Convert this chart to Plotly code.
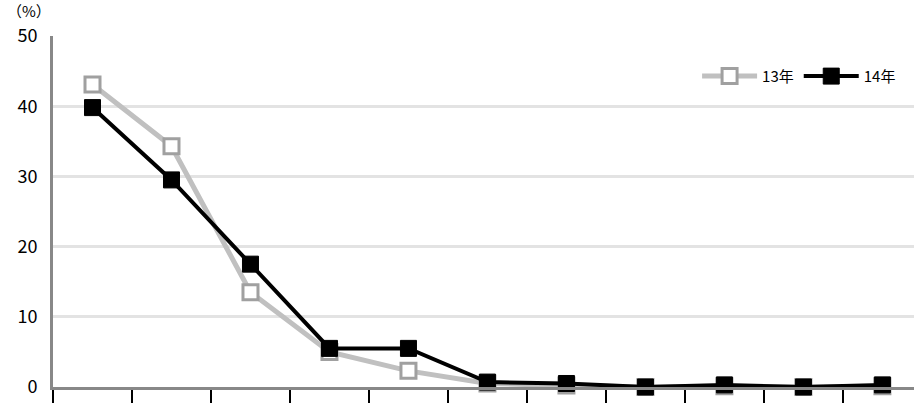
import plotly.graph_objects as go

categories = list(range(11))
series_13 = [43.1, 34.3, 13.5, 5.0, 2.3, 0.5, 0.2, 0.0, 0.1, 0.0, 0.1]
series_14 = [39.8, 29.5, 17.5, 5.5, 5.5, 0.7, 0.5, 0.0, 0.3, 0.0, 0.3]
names = ["13年", "14年"]
y_ticks = [0, 10, 20, 30, 40, 50]

font_family = "Noto Sans CJK JP"

fig = go.Figure()
fig.add_trace(go.Scatter(
    x=categories, y=series_13, name=names[0], mode="lines+markers",
    line=dict(color="#c0c0c0", width=5),
    marker=dict(symbol="square", size=15, color="white",
                line=dict(color="#a0a0a0", width=3)),
    cliponaxis=False,
))
fig.add_trace(go.Scatter(
    x=categories, y=series_14, name=names[1], mode="lines+markers",
    line=dict(color="black", width=4),
    marker=dict(symbol="square", size=16, color="black",
                line=dict(color="black", width=1)),
    cliponaxis=False,
))

fig.update_layout(
    width=914, height=403,
    margin=dict(l=53, r=0, t=36, b=16, autoexpand=False),
    paper_bgcolor="white", plot_bgcolor="white",
    font=dict(family=font_family, size=15, color="black"),
    showlegend=True,
    legend=dict(orientation="h", x=0.985, y=0.885, xanchor="right", yanchor="middle",
                font=dict(size=15), bgcolor="rgba(0,0,0,0)", itemwidth=55,
                tracegroupgap=0),
    xaxis=dict(
        range=[-0.5, 10.4], tickmode="array",
        tickvals=[c - 0.5 for c in categories] + [10.5],
        ticktext=[""] * 12,
        ticks="outside", ticklen=14, tickwidth=2, tickcolor="black",
        showgrid=False, zeroline=False, automargin=False,
        showline=True, linecolor="#888888", linewidth=3,
        fixedrange=True,
    ),
    yaxis=dict(
        range=[0, 50], tickvals=y_ticks, automargin=False,
        showgrid=True, gridcolor="#e3e3e3", gridwidth=3,
        zeroline=False, showline=True, linecolor="#888888", linewidth=3,
        ticks="", ticklabelstandoff=9, tickfont=dict(size=18),
        fixedrange=True,
    ),
    annotations=[dict(text="（%）", x=0, y=1, xref="paper", yref="paper",
                      xshift=-48, yshift=26, xanchor="left", yanchor="middle",
                      showarrow=False, font=dict(size=15))],
)

fig.write_html(
    "out.html",
    config={"displayModeBar": False},
    post_script="document.body.style.margin='0';document.body.style.overflow='hidden';",
)
